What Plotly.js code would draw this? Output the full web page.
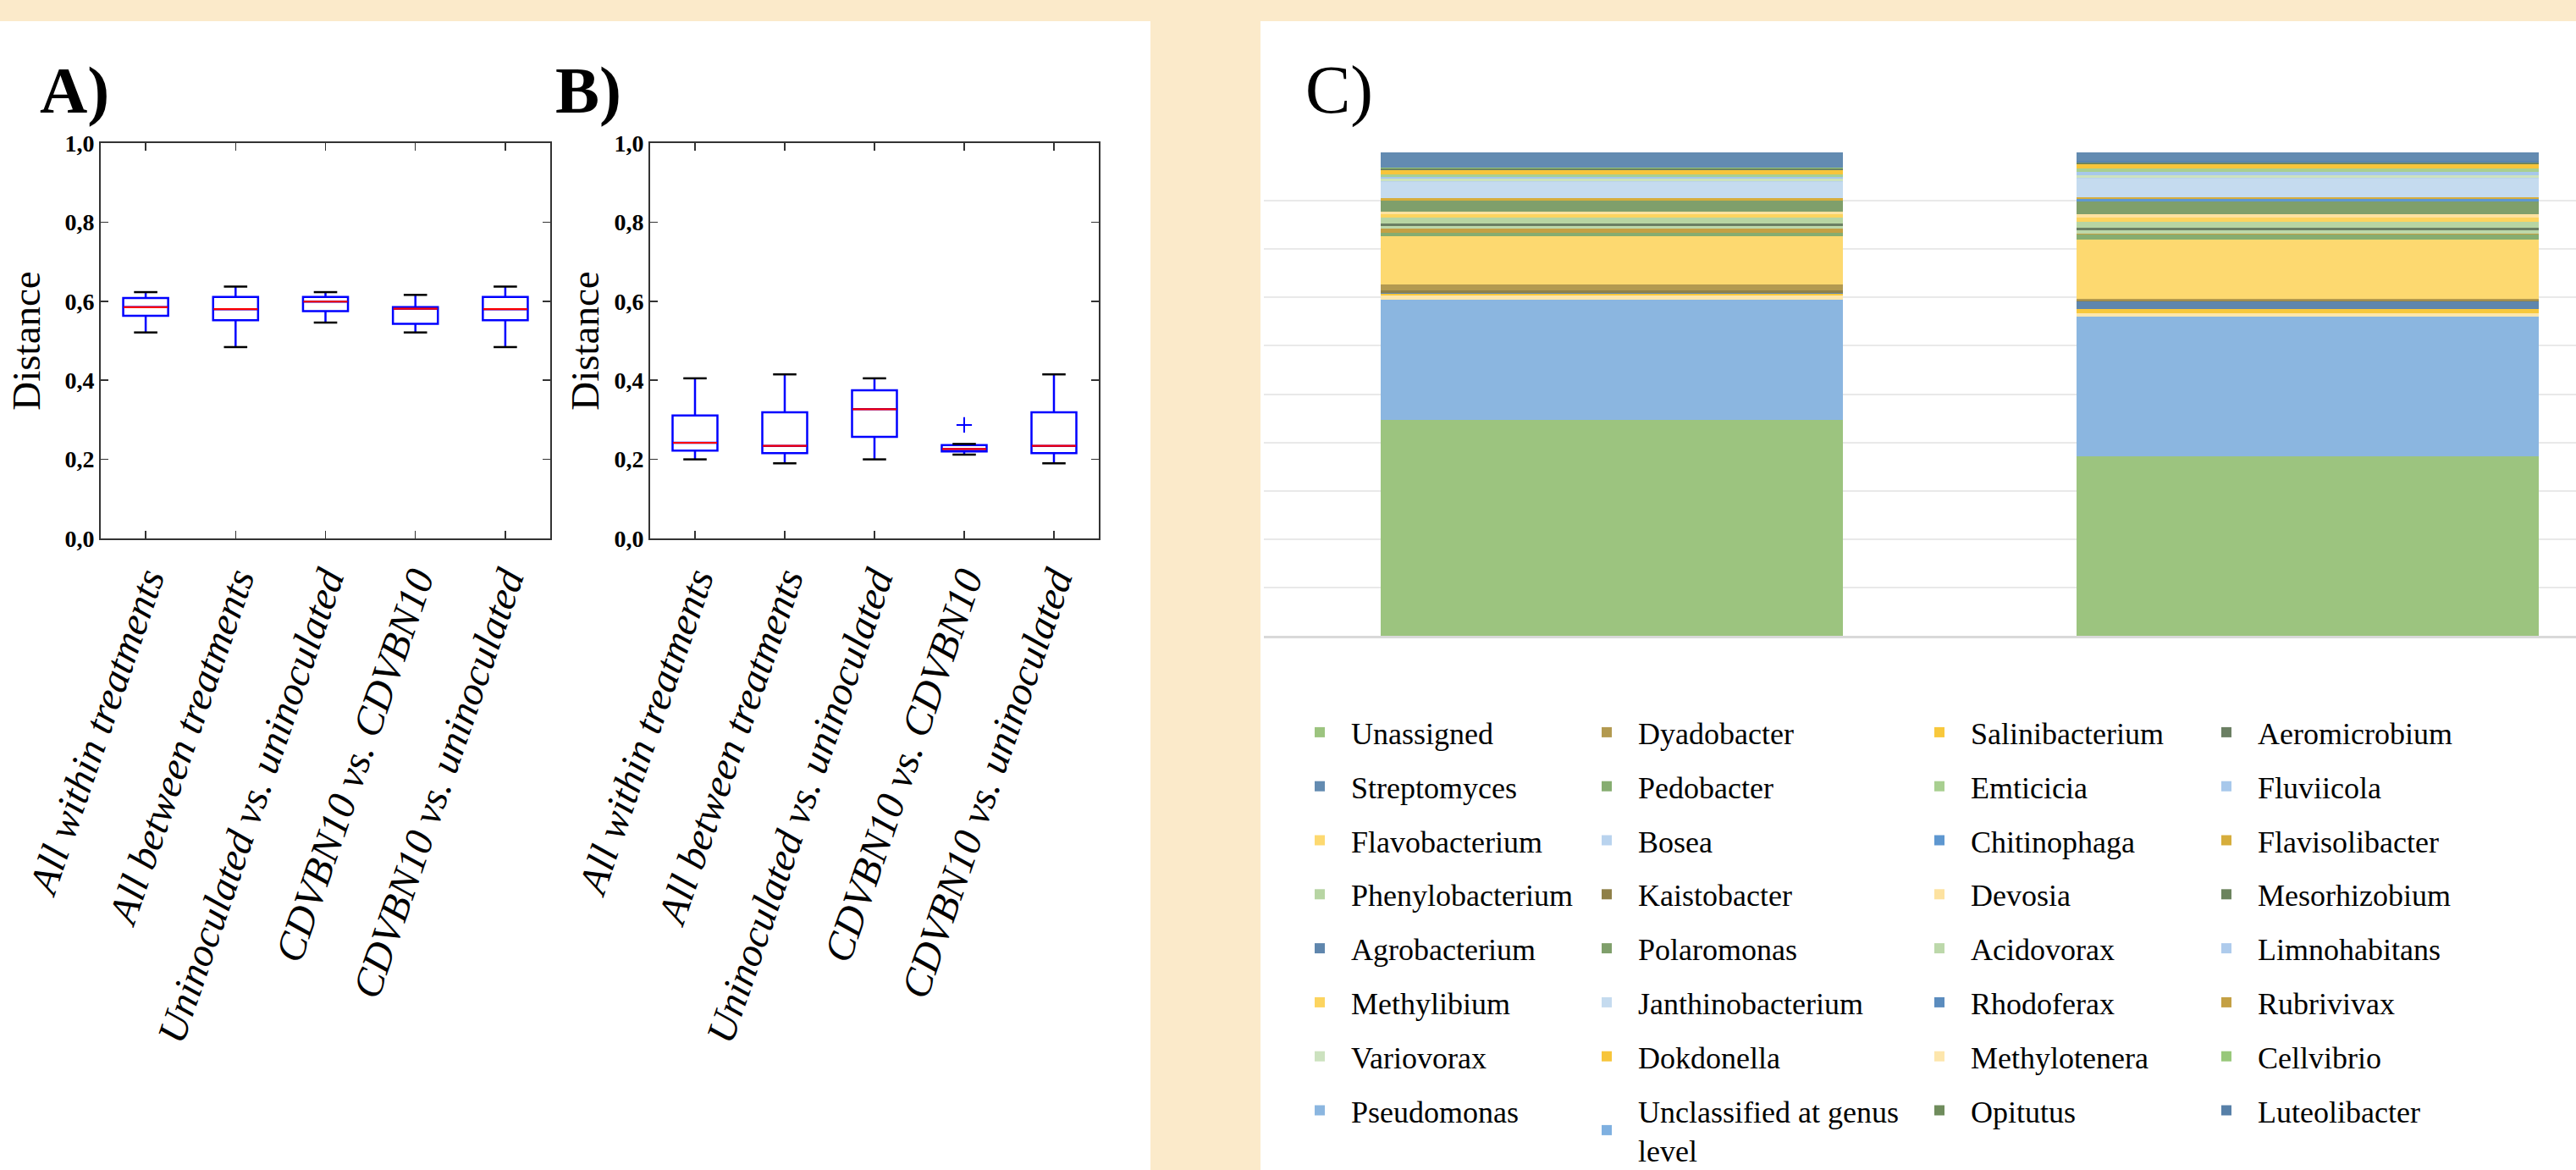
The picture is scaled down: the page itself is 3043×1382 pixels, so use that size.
<!DOCTYPE html>
<html><head><meta charset="utf-8">
<script src="https://cdn.plot.ly/plotly-3.0.1.min.js"></script>
<style>html,body{margin:0;padding:0;background:#fbeaca;} #chart{width:3043px;height:1382px;}</style>
</head><body><div id="chart"></div>
<script>
const W = 3043, H = 1382;

// ---------- Panels A and B: pairwise distances ----------
const comparisons = ['All within treatments', 'All between treatments', 'Uninoculated vs. uninoculated', 'CDVBN10 vs. CDVBN10', 'CDVBN10 vs. uninoculated'];
const comparisonPos = [0, 1, 2, 3, 4];
const distanceTicks = [0, 0.2, 0.4, 0.6, 0.8, 1.0];

const A_lowerfence = [0.521, 0.484, 0.546, 0.521, 0.484];
const A_q1         = [0.563, 0.552, 0.575, 0.543, 0.552];
const A_median     = [0.585, 0.580, 0.599, 0.581, 0.580];
const A_q3         = [0.608, 0.611, 0.611, 0.585, 0.611];
const A_upperfence = [0.623, 0.637, 0.623, 0.616, 0.637];

const B_lowerfence = [0.200, 0.190, 0.200, 0.212, 0.190];
const B_q1         = [0.222, 0.216, 0.257, 0.220, 0.216];
const B_median     = [0.242, 0.234, 0.327, 0.226, 0.234];
const B_q3         = [0.311, 0.319, 0.375, 0.236, 0.319];
const B_upperfence = [0.405, 0.415, 0.405, 0.239, 0.415];
const B_outlierPos   = [3];
const B_outlierValue = [0.287];

// ---------- Panel C: relative abundance of genera (%) ----------
const samples = ['Sample 1', 'Sample 2'];
const genera = ['Unassigned', 'Pseudomonas', 'Methylotenera', 'Salinibacterium', 'Agrobacterium', 'Kaistobacter', 'Dyadobacter', 'Flavobacterium', 'Pedobacter', 'Rubrivivax', 'Acidovorax', 'Aeromicrobium', 'Phenylobacterium', 'Methylibium', 'Devosia', 'Polaromonas', 'Chitinophaga', 'Flavisolibacter', 'Janthinobacterium', 'Bosea', 'Variovorax', 'Fluviicola', 'Emticicia', 'Dokdonella', 'Mesorhizobium', 'Limnohabitans', 'Rhodoferax', 'Opitutus', 'Cellvibrio', 'Unclassified at genus level', 'Luteolibacter', 'Streptomyces'];
const sample1 = [44.7, 24.9, 0.8, 0.4, 0.1, 0.6, 1.1, 10.0, 0.7, 0.9, 0.5, 0.6, 1.2, 0.7, 0.6, 2.2, 0.1, 0.5, 3.2, 0.2, 0.5, 0.5, 0.4, 0.9, 0.3, 0.05, 0.05, 0.05, 0.05, 0.05, 0.05, 3.1];
const sample2 = [37.1, 29.0, 0.6, 0.9, 1.5, 0.3, 0.3, 12.2, 1.2, 0.1, 0.7, 0.6, 1.2, 0.9, 0.6, 2.6, 0.6, 0.4, 3.8, 0.1, 0.5, 0.7, 0.7, 0.9, 0.4, 0.05, 0.05, 0.05, 0.05, 0.05, 0.05, 1.8];

// legend arrangement (four columns, top to bottom)
const legendColumns = [
  ['Unassigned', 'Streptomyces', 'Flavobacterium', 'Phenylobacterium', 'Agrobacterium', 'Methylibium', 'Variovorax', 'Pseudomonas'],
  ['Dyadobacter', 'Pedobacter', 'Bosea', 'Kaistobacter', 'Polaromonas', 'Janthinobacterium', 'Dokdonella', 'Unclassified at genus level'],
  ['Salinibacterium', 'Emticicia', 'Chitinophaga', 'Devosia', 'Acidovorax', 'Rhodoferax', 'Methylotenera', 'Opitutus'],
  ['Aeromicrobium', 'Fluviicola', 'Flavisolibacter', 'Mesorhizobium', 'Limnohabitans', 'Rubrivivax', 'Cellvibrio', 'Luteolibacter']
];

// styles
const genusColors = {
  'Unassigned': '#9cc47f', 'Pseudomonas': '#8bb6e0', 'Methylotenera': '#fde6ac', 'Salinibacterium': '#f8c83c',
  'Agrobacterium': '#5f86ad', 'Kaistobacter': '#8f8048', 'Dyadobacter': '#b39a50', 'Flavobacterium': '#fdd970',
  'Pedobacter': '#86ad70', 'Rubrivivax': '#c4a044', 'Acidovorax': '#bcd8aa', 'Aeromicrobium': '#6b7f63',
  'Phenylobacterium': '#b7d5a3', 'Methylibium': '#fcd45f', 'Devosia': '#fde2a0', 'Polaromonas': '#7f9f6b',
  'Chitinophaga': '#5e97d0', 'Flavisolibacter': '#d6ad3c', 'Janthinobacterium': '#c5dbef', 'Bosea': '#b9d3ee',
  'Variovorax': '#cce2bf', 'Fluviicola': '#a7c8eb', 'Emticicia': '#a8cf90', 'Dokdonella': '#f7c53a',
  'Mesorhizobium': '#6c845e', 'Limnohabitans': '#aecbec', 'Rhodoferax': '#5b8cbe', 'Opitutus': '#6f8c5c',
  'Cellvibrio': '#98c87a', 'Unclassified at genus level': '#7fb0e0', 'Luteolibacter': '#5780a8', 'Streptomyces': '#638bb1'
};

const FONT = 'Liberation Serif, Times New Roman, serif';
const px = x => x / W;
const py = y => 1 - y / H;

function boxTraces(pos, lf, q1, med, q3, uf, xa, ya) {
  const traces = [];
  traces.push({
    type: 'box', x: pos, q1: q1, median: med, q3: q3, lowerfence: lf, upperfence: uf,
    width: 0.5, whiskerwidth: 0, boxpoints: false,
    line: {color: '#0000ff', width: 2.5}, fillcolor: 'rgba(0,0,0,0)',
    xaxis: xa, yaxis: ya, showlegend: false, hoverinfo: 'skip'
  });
  // medians (red)
  const mx = [], my = [];
  pos.forEach((p, i) => { mx.push(p - 0.245, p + 0.245, null); my.push(med[i], med[i], null); });
  traces.push({type: 'scatter', mode: 'lines', x: mx, y: my, line: {color: '#ff0000', width: 2.2},
    xaxis: xa, yaxis: ya, showlegend: false, hoverinfo: 'skip'});
  // whisker caps (black)
  const cx = [], cy = [];
  pos.forEach((p, i) => {
    cx.push(p - 0.13, p + 0.13, null, p - 0.13, p + 0.13, null);
    cy.push(lf[i], lf[i], null, uf[i], uf[i], null);
  });
  traces.push({type: 'scatter', mode: 'lines', x: cx, y: cy, line: {color: '#000000', width: 2.5},
    xaxis: xa, yaxis: ya, showlegend: false, hoverinfo: 'skip'});
  return traces;
}

let data = [];
data = data.concat(boxTraces(comparisonPos, A_lowerfence, A_q1, A_median, A_q3, A_upperfence, 'x', 'y'));
data = data.concat(boxTraces(comparisonPos, B_lowerfence, B_q1, B_median, B_q3, B_upperfence, 'x2', 'y2'));
data.push({type: 'scatter', mode: 'markers', x: B_outlierPos, y: B_outlierValue,
  marker: {symbol: 'cross-thin', size: 13, line: {color: '#0000ff', width: 2}},
  xaxis: 'x2', yaxis: 'y2', showlegend: false, hoverinfo: 'skip'});

const legendIds = ['legend', 'legend2', 'legend3', 'legend4'];
genera.forEach((g, i) => {
  let col = 0, row = 0;
  legendColumns.forEach((c, ci) => { const r = c.indexOf(g); if (r >= 0) { col = ci; row = r; } });
  data.push({
    type: 'bar', name: g === 'Unclassified at genus level' ? 'Unclassified at genus<br>level' : g,
    x: samples, y: [sample1[i], sample2[i]],
    marker: {color: genusColors[g], line: {width: 0}},
    xaxis: 'x3', yaxis: 'y3', legend: legendIds[col], legendrank: row + 1, legendgroup: g
  });
});

function boxXAxis(x0, x1, ya) {
  return {
    domain: [px(x0), px(x1)], range: [-0.5, 4.5], anchor: ya,
    tickvals: comparisonPos, ticktext: comparisons, tickangle: -71,
    tickfont: {size: 48, style: 'italic', family: FONT, color: '#000'},
    ticks: 'inside', ticklen: 9, tickwidth: 1.5, tickcolor: '#333',
    showline: true, linecolor: '#333', linewidth: 2, mirror: 'ticks',
    showgrid: false, zeroline: false, fixedrange: true
  };
}
function boxYAxis(xa, standoff) {
  return {
    domain: [py(636), py(169)], range: [0, 1], anchor: xa,
    tickvals: distanceTicks, tickformat: '.1f',
    tickfont: {size: 28, weight: 'bold', family: FONT, color: '#000'},
    ticks: 'inside', ticklen: 9, tickwidth: 1.5, tickcolor: '#333',
    showline: true, linecolor: '#333', linewidth: 2, mirror: 'ticks',
    showgrid: false, zeroline: false, fixedrange: true,
    title: {text: 'Distance', font: {size: 47, family: FONT, color: '#000'}, standoff: standoff}
  };
}
function legendAt(x, y) {
  return {x: px(x), y: py(y), xanchor: 'left', yanchor: 'top', orientation: 'v',
    font: {size: 36, family: FONT, color: '#000'},
    bgcolor: 'rgba(0,0,0,0)', traceorder: 'grouped', tracegroupgap: 14, itemwidth: 64,
    itemclick: false, itemdoubleclick: false};
}

const layout = {
  width: W, height: H, margin: {l: 0, r: 0, t: 0, b: 0, autoexpand: false},
  paper_bgcolor: '#fbeaca', plot_bgcolor: '#ffffff',
  separators: ',.',
  font: {family: FONT, color: '#000'},
  barmode: 'stack', bargap: 0.335,
  showlegend: true,
  xaxis: boxXAxis(119, 650, 'y'),
  yaxis: boxYAxis('x', 14),
  xaxis2: boxXAxis(768, 1298, 'y2'),
  yaxis2: boxYAxis('x2', 3),
  xaxis3: {domain: [px(1493), 1], range: [-0.5, 1.386], anchor: 'y3', type: 'category',
    showticklabels: false, ticks: '', showline: true, linecolor: '#d9d9d9', linewidth: 3,
    showgrid: false, zeroline: false, fixedrange: true},
  yaxis3: {domain: [py(751), py(180)], range: [0, 100], dtick: 10, anchor: 'x3',
    showgrid: true, gridcolor: '#e9e9e9', gridwidth: 2, showticklabels: false, ticks: '',
    zeroline: false, showline: false, fixedrange: true},
  legend: legendAt(1522, 835),
  legend2: legendAt(1861, 835),
  legend3: legendAt(2254, 835),
  legend4: legendAt(2593, 835),
  shapes: [
    {type: 'rect', xref: 'paper', yref: 'paper', x0: 0, x1: px(1359), y0: 0, y1: py(25), fillcolor: '#ffffff', line: {width: 0}, layer: 'below'},
    {type: 'rect', xref: 'paper', yref: 'paper', x0: px(1489), x1: 1, y0: 0, y1: py(25), fillcolor: '#ffffff', line: {width: 0}, layer: 'below'}
  ],
  annotations: [
    {text: 'A)', xref: 'paper', yref: 'paper', x: px(45), y: py(106), xanchor: 'left', yanchor: 'middle', showarrow: false,
      font: {size: 78, weight: 'bold', family: FONT, color: '#000'}},
    {text: 'B)', xref: 'paper', yref: 'paper', x: px(654), y: py(106), xanchor: 'left', yanchor: 'middle', showarrow: false,
      font: {size: 78, weight: 'bold', family: FONT, color: '#000'}},
    {text: 'C)', xref: 'paper', yref: 'paper', x: px(1540), y: py(106), xanchor: 'left', yanchor: 'middle', showarrow: false,
      font: {size: 80, family: FONT, color: '#000'}}
  ]
};

Plotly.newPlot('chart', data, layout, {displayModeBar: false, staticPlot: true});
</script>
</body></html>
